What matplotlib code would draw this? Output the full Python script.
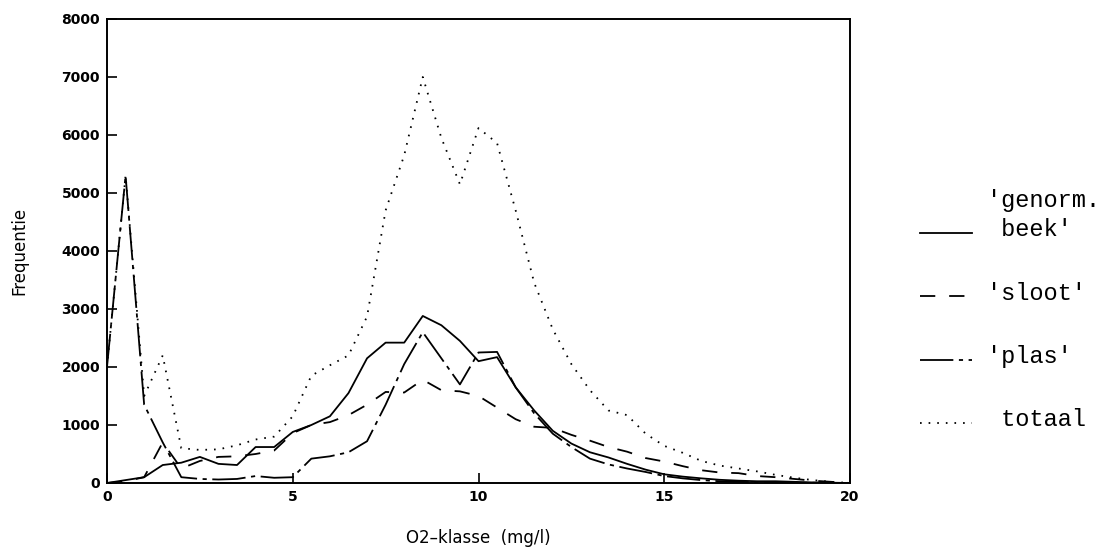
import matplotlib
matplotlib.use("Agg")
import matplotlib.pyplot as plt
from matplotlib.lines import Line2D

plt.rcParams['lines.scale_dashes'] = False

# ---- data ----
o2_klasse = [0, 0.5, 1, 1.5, 2, 2.5, 3, 3.5, 4, 4.5, 5, 5.5, 6, 6.5, 7, 7.5, 8, 8.5, 9, 9.5,
             10, 10.5, 11, 11.5, 12, 12.5, 13, 13.5, 14, 14.5, 15, 15.5, 16, 16.5, 17, 17.5,
             18, 18.5, 19, 19.5, 20]
beek = [0, 50, 100, 310, 350, 450, 330, 310, 620, 620, 880, 1000, 1150, 1550, 2150, 2420,
        2420, 2880, 2720, 2450, 2100, 2170, 1650, 1250, 900, 680, 530, 440, 330, 230, 150,
        110, 80, 55, 40, 30, 30, 20, 10, 5, 0]
sloot = [0, 30, 100, 700, 250, 380, 450, 460, 500, 560, 860, 1000, 1050, 1170, 1350, 1570,
         1560, 1780, 1600, 1580, 1500, 1300, 1100, 970, 950, 830, 730, 620, 540, 430, 370,
         290, 220, 180, 170, 120, 100, 70, 40, 20, 0]
plas = [2000, 5300, 1350, 700, 100, 70, 60, 70, 120, 90, 100, 420, 460, 530, 720, 1350,
        2050, 2600, 2150, 1700, 2250, 2260, 1650, 1200, 850, 620, 420, 320, 250, 190, 120,
        80, 50, 30, 20, 15, 10, 5, 5, 0, 0]
totaal = [2000, 5300, 1500, 2200, 600, 570, 580, 650, 750, 800, 1150, 1850, 2030, 2200,
          2870, 4700, 5650, 7000, 5950, 5150, 6120, 5860, 4700, 3450, 2650, 2050, 1600, 1250,
          1170, 850, 640, 520, 380, 300, 250, 200, 140, 90, 50, 20, 0]
x_ticks = [0, 5, 10, 15, 20]
y_ticks = [0, 1000, 2000, 3000, 4000, 5000, 6000, 7000, 8000]
legend_labels = [" beek'", "'sloot'", "'plas'", " totaal"]
legend_header = "'genorm."

W, H = 1108, 550
fig = plt.figure(figsize=(W / 100, H / 100), dpi=100)
ax = fig.add_axes([107 / W, 1 - 483 / H, (850 - 107) / W, (483 - 19) / H])

lw = 1.3
styles = [
    dict(linestyle='-'),
    dict(dashes=(11, 10)),
    dict(dashes=(24, 4, 3, 4)),
    dict(dashes=(1.2, 5)),
]
series = [beek, sloot, plas, totaal]
for vals, st in zip(series, styles):
    ax.plot(o2_klasse, vals, color='black', lw=lw, **st)

ax.set_xlim(0, 20)
ax.set_ylim(0, 8000)
ax.set_xticks(x_ticks)
ax.set_yticks(y_ticks)
ax.tick_params(direction='in', length=7, width=1.2, labelsize=10, pad=5)
for lab in ax.get_xticklabels() + ax.get_yticklabels():
    lab.set_fontweight('bold')
for sp in ax.spines.values():
    sp.set_linewidth(1.4)

ax.set_xlabel("O2\u2013klasse  (mg/l)", fontsize=12, labelpad=18)
ax.set_ylabel("Frequentie", fontsize=12, labelpad=24)

# ---- legend drawn to the right ----
ys = [230, 293, 357, 420]
mono = 'Liberation Mono'
fig.text(987 / W, 1 - 200 / H, legend_header, fontsize=17, family=mono,
         va='center', ha='left')
for y, st, lab in zip(ys, styles, legend_labels):
    ln = Line2D([920 / W, 972 / W], [1 - (y + 3) / H, 1 - (y + 3) / H],
                transform=fig.transFigure, color='black', lw=lw, **st)
    fig.add_artist(ln)
    fig.text(987 / W, 1 - y / H, lab, fontsize=17, family=mono, va='center', ha='left')

fig.savefig("out.png", dpi=100)
